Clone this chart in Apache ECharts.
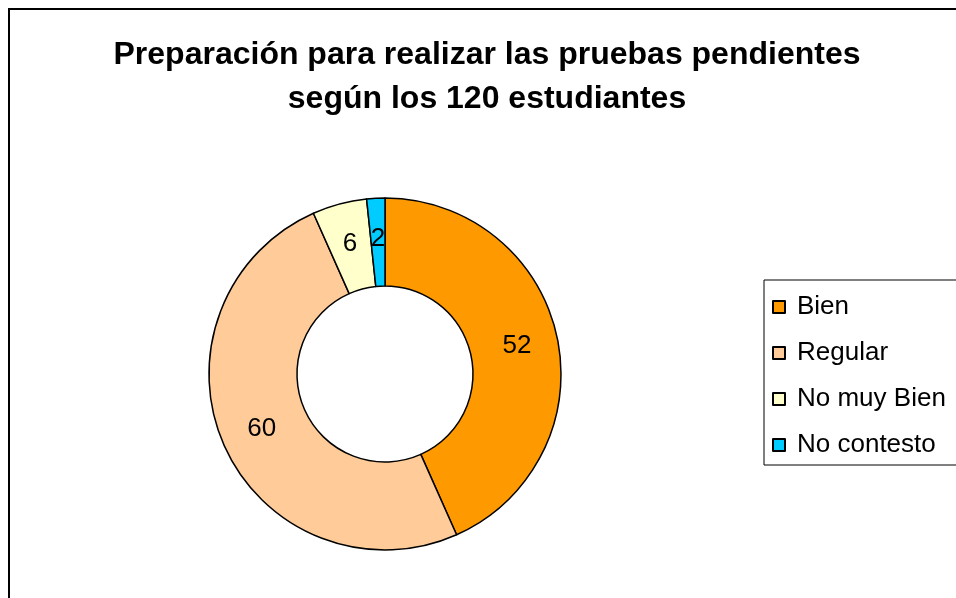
<!DOCTYPE html>
<html>
<head>
<meta charset="utf-8">
<script src="https://cdn.jsdelivr.net/npm/echarts@6/dist/echarts.min.js"></script>
<style>
  html, body { margin: 0; padding: 0; background: #fff; }
  #chart { width: 956px; height: 598px; }
</style>
</head>
<body>
<div id="chart"></div>
<script>
    // datos del gráfico
    var categorias = ['Bien', 'Regular', 'No muy Bien', 'No contesto'];
    var valores = [52, 60, 6, 2];
    var colores = ['#FF9900', '#FFCC99', '#FFFFCC', '#00CCFF'];

    var fuente = 'Arial, "Liberation Sans", sans-serif';

    var datos = categorias.map(function(nombre, i) {
        return { name: nombre, value: valores[i], itemStyle: { color: colores[i] } };
    });

    var option = {
        backgroundColor: '#fff',
        animation: false,
        title: {
            text: 'Preparación para realizar las pruebas pendientes\nsegún los 120 estudiantes',
            left: 482,
            top: 28,
            textAlign: 'center',
            textStyle: {
                fontFamily: fuente,
                fontWeight: 'bold',
                fontSize: 32,
                lineHeight: 44,
                color: '#000'
            }
        },
        legend: {
            orient: 'vertical',
            left: 764,
            top: 280,
            icon: 'rect',
            itemWidth: 12,
            itemHeight: 12,
            itemGap: 20,
            padding: [14, 40, 7, 8],
            borderColor: '#000',
            borderWidth: 1,
            borderRadius: 0,
            textStyle: {
                fontFamily: fuente,
                fontSize: 26,
                color: '#000',
                padding: [0, 0, 0, 7]
            },
            data: categorias
        },
        graphic: [{
            type: 'rect',
            shape: { x: 9, y: 9, width: 1000, height: 700 },
            style: { fill: 'none', stroke: '#000', lineWidth: 2 },
            silent: true
        }],
        series: [{
            type: 'pie',
            center: [385, 374],
            radius: [88, 176],
            startAngle: 90,
            clockwise: true,
            avoidLabelOverlap: false,
            itemStyle: {
                borderColor: '#000',
                borderWidth: 1.5
            },
            label: {
                show: true,
                position: 'inside',
                formatter: '{c}',
                fontFamily: fuente,
                fontSize: 26,
                color: '#000'
            },
            labelLine: { show: false },
            emphasis: { disabled: true },
            data: datos
        }]
    };

    var myChart = echarts.init(document.getElementById('chart'));
    myChart.setOption(option);
</script>
</body>
</html>
